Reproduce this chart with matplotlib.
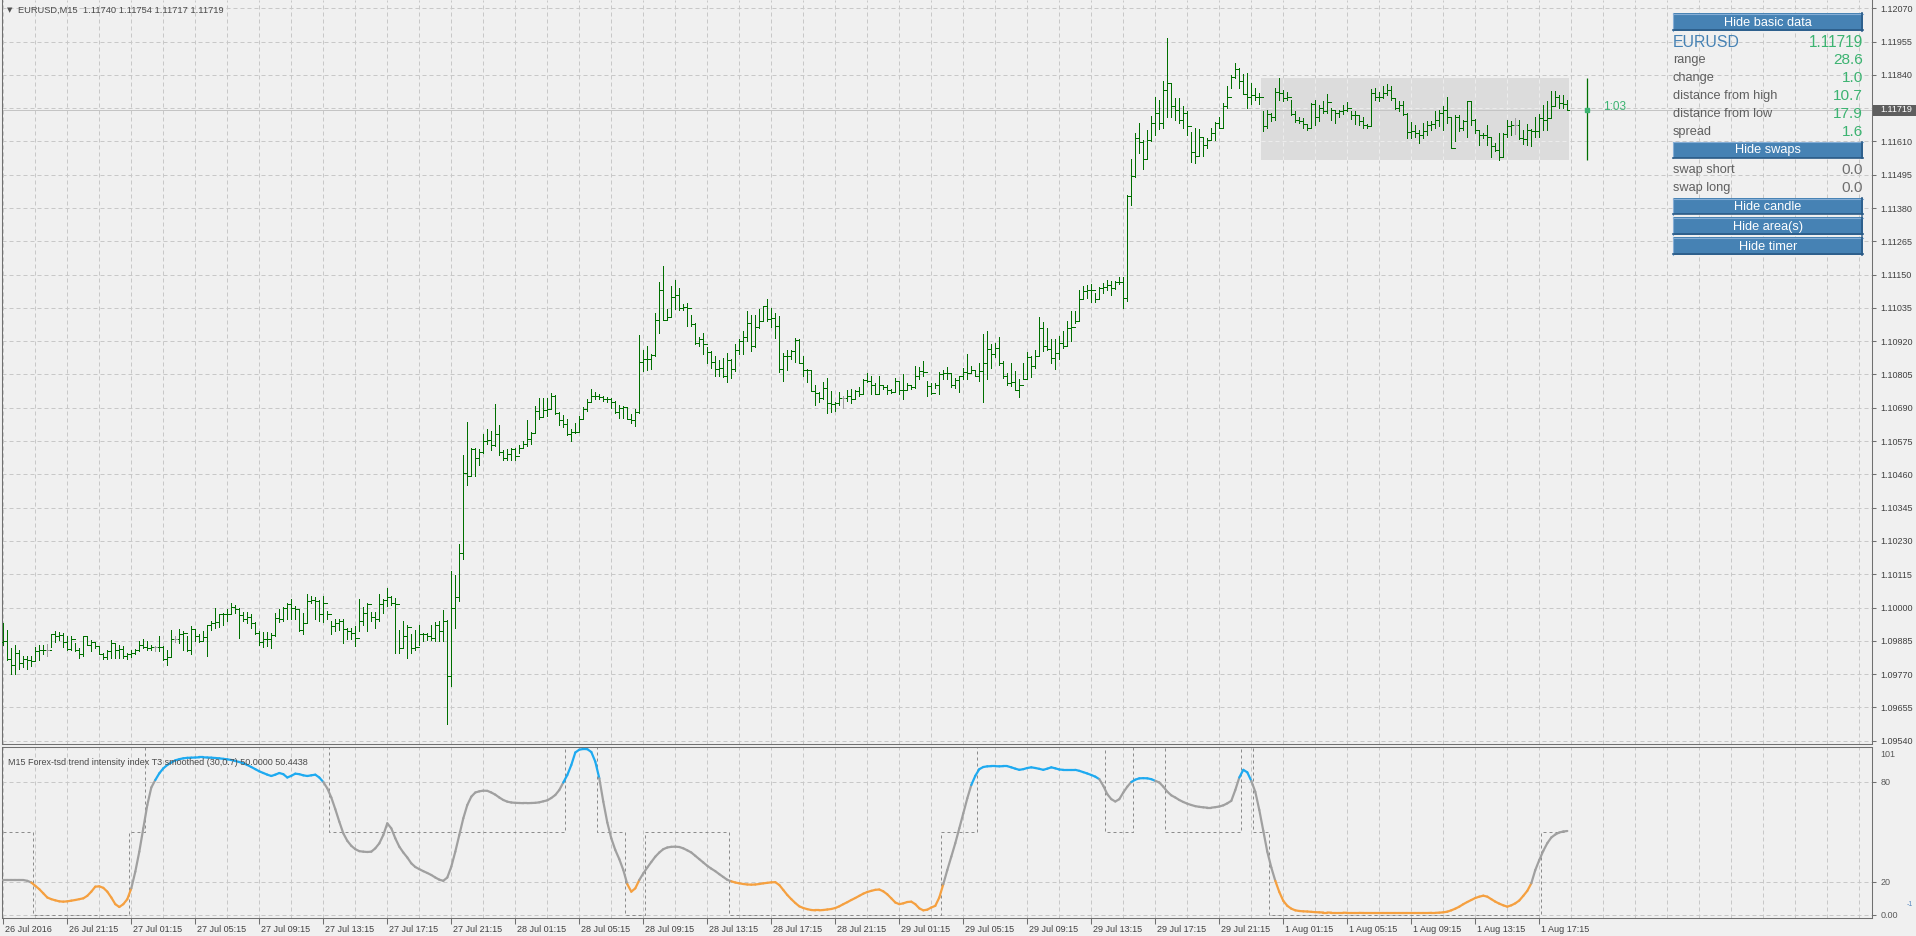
import numpy as np
import matplotlib.pyplot as plt
from matplotlib.patches import Rectangle
from matplotlib.collections import LineCollection
import matplotlib.transforms as mtrans

plt.rcParams['font.family'] = ['Liberation Sans', 'DejaVu Sans']

# EURUSD M15 bars, prices in pips above 1.0900
base = 1.0900
high_pips = [
    94.7, 92.4, 86.1, 86.9, 85.3, 83.4, 83.4, 83.4, 86.4, 86.9,
    86.9, 87.3, 91.0, 91.8, 91.6, 91.2, 90.3, 90.3, 87.6, 86.1,
    90.3, 90.1, 88.7, 88.0, 86.7, 84.4, 85.5, 88.7, 87.6, 87.2,
    86.7, 84.4, 85.3, 85.7, 88.4, 89.2, 88.4, 86.9, 86.7, 90.3,
    86.7, 85.5, 92.4, 90.3, 92.6, 91.8, 90.3, 93.5, 92.6, 90.7,
    91.8, 94.1, 95.3, 99.9, 97.9, 98.1, 99.5, 101.4, 101.0, 99.9,
    98.4, 98.4, 97.9, 94.9, 91.8, 91.5, 91.5, 91.2, 98.1, 99.5,
    100.2, 101.6, 102.8, 100.7, 99.3, 98.1, 104.8, 103.9, 103.7, 102.5,
    104.1, 98.7, 95.3, 95.9, 95.9, 95.9, 93.0, 93.0, 93.5, 103.0,
    100.2, 101.6, 98.4, 98.4, 104.5, 102.8, 106.8, 103.9, 103.3, 92.2,
    95.3, 93.8, 90.7, 92.4, 94.1, 91.2, 91.2, 93.8, 94.9, 95.3,
    99.3, 95.6, 112.5,
    111.2, 121.9, 152.6, 164.1, 155.2, 155.2, 154.9, 159.8, 161.8, 161.0,
    170.2, 162.9, 154.4, 154.7, 155.2, 155.2, 156.0, 157.5, 164.7, 160.6,
    169.6, 172.5, 172.5, 172.5, 174.0, 173.3, 167.5, 166.4, 165.0, 161.6,
    163.6, 166.2, 169.4, 172.1, 175.6, 174.4, 173.6, 173.0, 172.8, 172.5,
    171.3, 169.8, 169.6, 169.4, 166.7, 168.7, 194.0, 189.1, 190.5, 187.4,
    201.6, 212.6, 218.1, 203.2, 211.2, 213.0, 210.4, 205.0, 205.2, 201.2,
    198.3, 193.5, 194.7, 190.1, 188.6, 186.9, 185.5, 186.3, 187.8, 185.9,
    190.9, 192.6, 195.5, 202.4, 201.2, 201.2, 203.0, 204.3, 206.6, 203.5,
    201.8,
    200.8, 187.9, 189.1, 188.8, 193.1, 192.8, 187.0, 182.4, 182.2, 176.7,
    174.4, 177.8, 179.3, 174.7, 170.9, 174.4, 173.0, 175.1, 175.5, 175.1,
    176.2, 178.8, 181.0, 180.1, 177.6, 180.1, 177.0, 176.7, 175.5, 179.3,
    178.2, 180.5, 177.6, 177.0, 183.4, 183.1, 185.1, 178.2, 177.6, 177.6,
    181.3, 182.2, 183.1, 181.0, 179.3, 180.1, 182.8, 187.4, 183.4, 182.2,
    184.3, 194.6, 195.4, 191.1, 191.2, 193.5, 185.1, 181.0, 184.5, 181.6,
    178.8, 184.5, 188.4, 187.0, 188.9, 200.4, 198.5, 196.6, 192.8, 192.8,
    193.7, 195.4, 198.9, 202.3, 202.3, 209.8, 211.2, 211.5, 211.9, 208.7,
    210.7, 212.1, 213.0, 212.7, 212.9, 214.2, 214.2,
    242.4, 254.9, 263.9, 267.3, 261.6, 265.0, 269.9, 276.2, 275.4, 281.9,
    296.6, 281.1, 275.9, 275.9, 273.1, 271.6, 264.2, 265.8, 265.4, 262.4,
    262.2, 265.8, 267.7, 269.6, 274.2, 280.0, 284.0, 288.0, 286.5, 284.2,
    284.6, 281.1, 279.6, 277.7, 271.6, 271.9, 270.8, 279.6, 282.9,
    278.8, 278.2, 275.4, 271.4, 269.3, 269.0, 266.8, 274.2, 275.4, 273.6,
    275.0, 277.3, 272.5, 271.9, 271.9, 273.6, 274.6, 271.4, 271.4, 270.0,
    269.6, 267.0, 279.2, 279.4, 278.2, 280.3, 280.8, 280.0, 276.0, 275.0,
    275.0, 270.8, 267.7, 266.8, 265.0, 267.3, 267.9, 267.9, 271.4, 271.9,
    273.1, 276.5, 269.6, 270.2, 270.2, 268.5, 275.0, 274.8, 268.8, 265.0,
    263.9, 266.8, 262.2, 260.4, 263.9, 263.9, 268.5, 268.0, 269.0, 268.5,
    265.0, 267.0, 265.4, 269.3, 270.4, 273.6, 274.8, 278.3, 278.3, 276.9,
    276.9, 275.4,
]
low_pips = [
    87.2, 81.8, 77.1, 77.2, 78.6, 79.5, 78.8, 79.7, 81.5, 81.8,
    83.8, 83.4, 86.4, 88.0, 88.9, 86.4, 85.5, 85.5, 84.9, 82.6,
    83.4, 86.9, 84.9, 86.1, 83.8, 82.1, 82.3, 82.6, 82.6, 82.6,
    82.6, 82.3, 83.0, 83.8, 84.9, 86.1, 85.5, 85.3, 84.9, 84.9,
    81.8, 80.0, 83.0, 88.0, 87.8, 85.5, 84.9, 83.8, 88.4, 88.0,
    88.4, 83.2, 92.4, 93.0, 93.3, 94.1, 95.3, 98.1, 98.1, 89.5,
    95.3, 94.7, 93.0, 90.7, 87.2, 86.4, 86.6, 86.1, 90.1, 94.9,
    95.3, 95.9, 95.9, 95.9, 91.8, 90.7, 94.7, 101.6, 95.9, 95.3,
    94.9, 95.9, 90.7, 91.8, 92.4, 87.8, 89.0, 89.0, 86.6, 91.8,
    94.1, 91.8, 95.3, 93.0, 95.3, 98.1, 100.5, 101.0, 84.4, 84.4,
    86.1, 82.6, 84.4, 85.5, 86.9, 88.4, 88.9, 88.9, 88.4, 88.4,
    88.4, 59.9, 72.9,
    93.1, 102.3, 116.9, 142.2, 145.4, 145.4, 149.1, 153.5, 156.4, 154.4,
    155.8, 152.6, 151.0, 151.0, 151.0, 151.0, 153.3, 155.2, 155.8, 156.4,
    160.4, 165.2, 166.1, 166.1, 168.5, 166.7, 162.9, 162.5, 159.5, 157.5,
    160.4, 160.6, 165.2, 167.9, 171.3, 172.1, 171.9, 171.3, 171.0, 169.0,
    167.1, 165.6, 165.6, 165.2, 163.9, 162.7, 167.3, 181.7, 182.2, 182.5,
    186.9, 194.9, 199.5, 199.5, 200.4, 203.0, 202.7, 202.9, 197.2, 197.2,
    190.9, 190.5, 187.4, 184.3, 182.8, 180.0, 180.0, 179.7, 177.9, 179.4,
    181.7, 187.4, 187.4, 192.0, 188.6, 190.1, 196.6, 198.9, 198.9, 197.0,
    193.1,
    181.3, 178.2, 182.0, 185.7, 184.7, 184.5, 180.1, 177.8, 174.7, 170.1,
    170.9, 171.9, 167.3, 167.5, 167.8, 170.1, 169.0, 171.3, 170.5, 171.9,
    173.0, 173.9, 177.8, 173.9, 173.6, 173.6, 175.5, 173.6, 174.2, 174.4,
    173.9, 171.9, 175.5, 175.5, 175.9, 178.8, 180.1, 173.0, 173.6, 175.9,
    173.6, 179.0, 178.8, 176.2, 175.9, 174.4, 179.0, 178.8, 181.3, 179.9,
    178.2, 170.9, 178.8, 182.8, 186.6, 183.9, 179.3, 177.0, 176.4, 175.1,
    172.8, 178.8, 179.0, 179.7, 182.8, 187.0, 188.5, 189.1, 184.5, 182.4,
    185.7, 189.7, 190.3, 192.0, 198.3, 198.9, 206.4, 206.9, 205.4, 205.4,
    206.9, 208.7, 209.6, 208.1, 210.0, 211.9, 203.5,
    206.0, 239.2, 248.6, 257.0, 251.6, 255.0, 261.2, 263.3, 265.4, 265.6,
    269.3, 269.3, 268.5, 267.3, 265.6, 263.3, 253.9, 253.5, 255.8, 255.8,
    258.7, 261.6, 261.6, 265.8, 265.8, 272.7, 279.4, 282.9, 279.4, 277.3,
    272.5, 273.9, 275.4, 273.9, 264.7, 265.6, 268.1, 268.5, 275.4,
    275.0, 275.4, 270.2, 267.7, 267.3, 265.6, 265.0, 265.6, 266.8, 267.9,
    270.8, 270.8, 268.5, 267.3, 269.3, 270.4, 271.4, 268.8, 267.0, 266.8,
    265.6, 265.6, 266.2, 275.4, 274.8, 276.0, 277.1, 275.4, 272.3, 271.4,
    270.2, 262.2, 262.2, 262.7, 260.4, 262.2, 263.3, 265.0, 265.6, 266.2,
    265.0, 267.3, 258.7, 261.0, 264.5, 265.0, 262.7, 266.8, 263.9, 259.6,
    262.2, 259.6, 255.5, 257.6, 254.7, 255.5, 262.7, 263.1, 263.5, 261.9,
    260.1, 259.6, 259.3, 262.4, 262.4, 265.0, 265.0, 269.0, 273.1, 272.5,
    272.7, 271.7,
]
close_pips = [
    88.6, 82.3, 80.0, 84.4, 80.9, 82.1, 81.8, 81.6, 84.9, 85.5,
    85.2, 85.2, 90.7, 90.3, 90.5, 88.1, 85.8, 89.3, 85.5, 83.8,
    90.1, 87.2, 88.0, 86.7, 84.1, 83.0, 84.9, 87.6, 85.5, 85.7,
    83.4, 83.8, 84.4, 85.5, 87.2, 86.4, 86.0, 86.2, 86.2, 86.4,
    82.1, 83.0, 89.0, 89.0, 90.9, 91.2, 85.3, 92.6, 90.3, 88.4,
    89.8, 93.8, 94.7, 94.9, 97.8, 97.6, 97.9, 100.1, 99.5, 97.3,
    96.1, 96.8, 94.7, 91.2, 88.0, 89.0, 89.2, 90.4, 96.4, 95.9,
    99.9, 101.3, 99.9, 99.5, 92.4, 94.7, 102.2, 102.5, 102.2, 97.9,
    101.6, 97.6, 93.5, 94.7, 95.3, 92.6, 91.8, 91.2, 89.5, 95.3,
    98.1, 101.3, 96.7, 95.9, 101.1, 102.5, 103.6, 101.4, 101.3, 86.1,
    90.3, 93.3, 85.9, 86.4, 90.7, 90.9, 90.3, 89.5, 93.8, 91.8,
    95.5, 76.5, 99.9,
    103.5, 118.7, 146.6, 145.4, 154.9, 151.8, 153.7, 157.5, 157.9, 156.0,
    159.8, 153.7, 151.8, 152.9, 154.9, 152.4, 155.2, 156.4, 158.3, 160.4,
    167.9, 165.9, 168.2, 168.5, 173.0, 167.1, 164.8, 163.5, 159.8, 160.6,
    160.7, 165.2, 168.7, 171.0, 173.0, 173.2, 172.8, 171.9, 172.1, 171.0,
    167.5, 169.0, 169.2, 165.2, 164.8, 167.5, 184.8, 185.9, 185.7, 187.1,
    199.3, 209.6, 199.3, 200.4, 207.3, 208.1, 203.5, 203.9, 203.5, 198.1,
    191.2, 192.8, 190.9, 188.2, 184.8, 182.5, 182.7, 180.0, 185.5, 182.5,
    189.1, 192.0, 193.5, 198.4, 190.5, 197.0, 198.9, 204.1, 199.7, 200.1,
    197.2,
    182.4, 187.0, 186.8, 188.5, 192.5, 184.5, 182.2, 182.1, 174.7, 174.2,
    172.4, 175.9, 170.5, 170.4, 170.6, 172.4, 172.4, 173.0, 171.9, 174.7,
    173.9, 178.5, 178.2, 176.7, 173.8, 176.7, 176.2, 175.3, 174.4, 178.2,
    175.0, 175.1, 177.0, 176.2, 180.1, 181.6, 181.3, 176.4, 174.2, 177.0,
    180.8, 181.0, 181.1, 176.7, 178.5, 179.9, 181.3, 181.0, 182.0, 180.1,
    181.6, 184.5, 189.3, 187.7, 189.7, 184.5, 179.9, 177.6, 177.8, 175.3,
    177.0, 179.0, 186.6, 183.4, 187.0, 196.6, 190.3, 189.3, 186.2, 187.9,
    191.2, 190.5, 196.6, 196.9, 198.9, 206.6, 209.2, 209.6, 209.8, 206.6,
    210.4, 210.7, 211.5, 210.4, 212.3, 212.5, 206.9,
    242.0, 248.9, 262.1, 260.7, 254.9, 261.6, 267.3, 270.8, 267.3, 278.8,
    281.1, 273.1, 271.9, 268.5, 270.8, 266.2, 257.3, 255.8, 262.4, 259.6,
    261.6, 263.9, 267.3, 265.8, 273.1, 276.5, 283.4, 286.1, 281.7, 277.3,
    276.2, 277.1, 276.5, 276.3, 266.2, 270.4, 269.6, 278.0, 277.7,
    276.0, 276.2, 270.4, 268.5, 268.1, 267.0, 265.6, 273.9, 269.3, 272.7,
    271.6, 274.6, 271.9, 270.8, 271.6, 271.7, 272.7, 270.2, 270.0, 267.9,
    266.8, 266.2, 277.7, 276.5, 276.2, 277.7, 278.8, 276.0, 272.5, 273.6,
    270.4, 264.4, 264.7, 263.9, 263.3, 264.7, 266.8, 267.0, 268.5, 270.8,
    271.9, 269.6, 258.9, 269.6, 265.6, 267.9, 274.8, 268.5, 265.0, 263.1,
    263.3, 262.4, 259.3, 258.1, 255.5, 263.5, 266.2, 266.8, 266.8, 262.2,
    261.9, 265.0, 264.7, 264.6, 269.0, 268.5, 269.1, 273.1, 276.2, 274.2,
    274.0, 271.9,
]
first_open_pips = 88.0
doji_bars = [11, 38, 43, 210, 378]   # drawn grey (open == close)

# trend intensity index (T3 smoothed), one value per bar
tii = [
    21, 21, 21, 21, 21, 21, 20.5, 19.5,
    17.5, 15.5, 13, 10.5, 9.5, 8.8, 8.2, 8.0,
    8.2, 8.6, 9.0, 9.5, 10.0, 11.5, 14, 17,
    17.2, 16.3, 14, 10.5, 6.5, 4.8, 6.5, 9.5,
    16, 26, 38, 52, 66, 76.5, 81, 85,
    88, 90, 91.5, 92.8, 93.5, 94, 94.3, 94.4,
    94.5, 94.6, 94.6, 94.5, 94.4, 94.2, 94, 93.7,
    93.4, 93, 92.4, 91.8, 91, 90, 88.8, 87.5,
    86.2, 85.2, 84.2, 83.4, 84.2, 85.2, 84.5, 82.5,
    83.5, 84.8, 84.5, 83.8, 83.4, 83.8, 84.2, 82.5,
    79.8, 76, 70.5, 63.5, 56, 49, 44.5, 41.5,
    39.5, 38.3, 38, 37.8, 38, 40, 43, 48,
    55, 52, 46, 41, 37.5, 34.5, 31, 28.8,
    27.5, 26.3, 25.2, 24, 22.5, 21.2, 20.5, 22.5,
    29, 38, 48, 58, 66, 71, 73.5, 74.2,
    74.6, 74.5, 73.5, 72.2, 70.5, 69, 68, 67.5,
    67.3, 67.2, 67.1, 67.1, 67.2, 67.3, 67.6, 68.2,
    68.8, 70.2, 72, 75, 79.5, 84, 90, 97.5,
    99.2, 99.6, 99.5, 97.8, 92, 82, 68, 55.5,
    46, 39, 33.5, 27, 18.5, 14, 16, 21,
    25, 28.5, 31.8, 35, 37.5, 39.5, 40.5, 40.9,
    41, 40.8, 40, 38.8, 37.5, 35.5, 33.5, 31.5,
    29.5, 27.8, 26.3, 24.5, 22.8, 21.1, 20.2, 19.5,
    19, 18.6, 18.3, 18.2, 18.3, 18.6, 19, 19.3,
    19.6, 19.7, 18, 15, 12, 9.5, 7.2, 5.2,
    4.2, 3.5, 3, 2.8, 2.8, 3, 3.3, 3.6,
    4.2, 5.2, 6.5, 7.7, 9, 10.2, 11.5, 12.8,
    13.8, 14.5, 15.1, 15.3, 14.2, 12.4, 10, 7.5,
    6.5, 7, 7.8, 8, 6.5, 4, 2.8, 3.2,
    4.5, 5.5, 10.5, 18.5, 27, 35, 43.1, 52,
    61, 70, 78, 83.5, 87.5, 88.8, 89.2, 89.3,
    89.3, 89.2, 89.3, 89.3, 88.6, 87.8, 87.1, 87.5,
    88.2, 88.6, 88.2, 87.7, 87.1, 87.8, 88.6, 88,
    87.3, 87.1, 87.1, 87.1, 87.1, 86.5, 85.7, 84.9,
    84, 83, 81.5, 77.5, 72.5, 69.5, 68.1, 69.5,
    73.5, 77, 79.8, 81.2, 82, 82.1, 82, 81.5,
    80.5, 79.5, 77, 74, 71.8, 70.5, 69, 67.8,
    66.8, 66, 65.3, 64.9, 64.6, 64.4, 64.4, 64.7,
    65.1, 65.8, 67, 68.5, 75, 82.5, 87.1, 85.6,
    80.5, 73.9, 63, 50.5, 38, 28.5, 20.5, 13.8,
    8.5, 5.5, 3.8, 2.8, 2.4, 2.2, 2.1, 1.9,
    1.7, 1.6, 1.5, 1.5, 1.4, 1.4, 1.4, 1.4,
    1.3, 1.3, 1.3, 1.3, 1.2, 1.2, 1.2, 1.2,
    1.2, 1.2, 1.2, 1.2, 1.2, 1.2, 1.2, 1.2,
    1.2, 1.2, 1.2, 1.2, 1.2, 1.3, 1.3, 1.4,
    1.6, 2.0, 2.8, 3.8, 5, 6.5, 7.8, 9,
    10.2, 11, 11.6, 11, 9.5, 8, 6.8, 5.8,
    5, 5.8, 7, 8.7, 11.5, 14.5, 19, 27,
    33, 38.5, 43.1, 46.5, 48.3, 49.5, 50.1, 50.4,
]
# dotted state line: level and number of bars it holds
state_level = [50, 0, 50, 101, 50, 101, 50, 0, 50, 0, 50, 101, 50, 101, 50, 101, 50, 0, 50]
state_len = [8, 24, 4, 46, 59, 8, 7, 5, 21, 53, 9, 32, 7, 8, 19, 3, 4, 68, 7]

time_labels = ['26 Jul 2016', '26 Jul 21:15', '27 Jul 01:15', '27 Jul 05:15', '27 Jul 09:15',
               '27 Jul 13:15', '27 Jul 17:15', '27 Jul 21:15', '28 Jul 01:15', '28 Jul 05:15',
               '28 Jul 09:15', '28 Jul 13:15', '28 Jul 17:15', '28 Jul 21:15', '29 Jul 01:15',
               '29 Jul 05:15', '29 Jul 09:15', '29 Jul 13:15', '29 Jul 17:15', '29 Jul 21:15',
               '1 Aug 01:15', '1 Aug 05:15', '1 Aug 09:15', '1 Aug 13:15', '1 Aug 17:15']
price_ticks = [1.09540, 1.09655, 1.09770, 1.09885, 1.10000, 1.10115, 1.10230, 1.10345,
               1.10460, 1.10575, 1.10690, 1.10805, 1.10920, 1.11035, 1.11150, 1.11265,
               1.11380, 1.11495, 1.11610, 1.11725, 1.11840, 1.11955, 1.12070]
last_price = 1.11719
day_start = 315          # first bar of 1 Aug
candle_pos = 396         # daily candle drawn right of the last bar
info_rows = [('range', '28.6'), ('change', '1.0'), ('distance from high', '10.7'),
             ('distance from low', '17.9'), ('spread', '1.6')]
swap_rows = [('swap short', '0.0'), ('swap long', '0.0')]

n = len(close_pips)
assert len(high_pips) == n and len(low_pips) == n and len(tii) == n == sum(state_len)

hi = base + np.array(high_pips) / 1e4
lo = base + np.array(low_pips) / 1e4
cl = base + np.array(close_pips) / 1e4
op = np.concatenate([[base + first_open_pips / 1e4], cl[:-1]])
x = np.arange(n)

BG = '#f0f0f0'
GRID = '#c8c8c8'
FRAME = '#707070'
GREEN = '#006f00'
SEA = '#3cb371'
W, H = 1916, 936
fig = plt.figure(figsize=(W / 100, H / 100), dpi=100, facecolor=BG)


def px_axes(x0, y0, x1, y1):
    return fig.add_axes([x0 / W, 1 - y1 / H, (x1 - x0) / W, (y1 - y0) / H])


xlim = (-0.325, 467.175)
grid_kw = dict(color=GRID, ls=(0, (4, 3)), lw=0.72)

# ---- price chart
ax = px_axes(2, 0, 1872, 744)
ax.set_facecolor(BG)
ax.set_xlim(*xlim)
ax.set_ylim(1.095286, 1.120985)
ax.set_axisbelow(True)
ax.set_xticks(np.arange(0, 468, 8))
ax.set_yticks(price_ticks)
ax.set_yticklabels(['%.5f' % p for p in price_ticks])
ax.yaxis.tick_right()
ax.tick_params(axis='x', length=0, labelbottom=False)
ax.tick_params(axis='y', length=3, width=0.75, color=FRAME, labelsize=6.5,
               labelcolor='#404040', pad=3)
ax.grid(**grid_kw)
ax.spines['top'].set_visible(False)
for s in ('left', 'right', 'bottom'):
    ax.spines[s].set_color(FRAME)
    ax.spines[s].set_linewidth(0.75)

# today's range box
day_hi = hi[day_start:].max()
day_lo = lo[day_start:].min()
ax.add_patch(Rectangle((day_start - 0.5, day_lo), n - day_start, day_hi - day_lo,
                       fc='#dcdcdc', ec='none', zorder=0.8))
inside_x = [g for g in np.arange(0, 468, 8) if day_start - 0.5 < g < n - 0.5]
inside_y = [p for p in price_ticks if day_lo < p < day_hi]
ax.vlines(inside_x, day_lo, day_hi, color='#ececec', ls=(0, (4, 3)), lw=0.72, zorder=0.9)
ax.hlines(inside_y, day_start - 0.5, n - 0.5, color='#ececec', ls=(0, (4, 3)), lw=0.72, zorder=0.9)

ax.axhline(last_price, color='#c4c4c4', lw=0.72, zorder=1.5)

colors = ['#a0a0a0' if i in doji_bars else GREEN for i in range(n)]
ax.vlines(x, lo, hi, colors=colors, lw=0.7, antialiased=False, zorder=3)
ax.hlines(op, x - 0.5, x, colors=colors, lw=0.7, antialiased=False, zorder=3)
ax.hlines(cl, x, x + 0.5, colors=colors, lw=0.7, antialiased=False, zorder=3)

# daily candle + timer
ax.vlines(candle_pos, day_lo, day_hi, color=GREEN, lw=0.9, zorder=3)
ax.plot(candle_pos, last_price, marker='s', ms=3.2, color=SEA, zorder=4)
ax.text(candle_pos + 4, last_price, '1:03', color=SEA, fontsize=8.5, va='baseline', ha='left')

# ---- indicator window
ax2 = px_axes(2, 746.5, 1872, 917.5)
ax2.set_facecolor(BG)
ax2.set_xlim(*xlim)
ax2.set_ylim(-1.5, 101.1)
ax2.set_axisbelow(True)
major = np.arange(0, 16 * len(time_labels), 16)
ax2.set_xticks(major)
ax2.set_xticklabels(time_labels)
ax2.set_xticks([g for g in range(0, 468, 8) if g not in major], minor=True)
ax2.tick_params(axis='x', which='major', length=4, width=0.75, color=FRAME,
                labelsize=6.5, labelcolor='#404040', pad=1.5)
ax2.tick_params(axis='x', which='minor', length=0)
shift = mtrans.ScaledTranslation(2 / 100, 0, fig.dpi_scale_trans)
for t in ax2.get_xticklabels():
    t.set_ha('left')
    t.set_transform(t.get_transform() + shift)
ax2.set_yticks([0, 20, 80])
ax2.set_yticklabels(['0.00', '20', '80'])
ax2.yaxis.tick_right()
ax2.tick_params(axis='y', length=3, width=0.75, color=FRAME, labelsize=6.5,
                labelcolor='#5a5a5a', pad=3)
ax2.grid(which='both', **grid_kw)
for s in ax2.spines.values():
    s.set_color(FRAME)
    s.set_linewidth(0.75)
ax2.text(1.0045, 99.0, '101', transform=ax2.get_yaxis_transform(), fontsize=6.5,
         color='#5a5a5a', va='top', ha='left')
ax2.text(1.0185, 6.5, '-1', transform=ax2.get_yaxis_transform(), fontsize=5,
         color='#5a8ac0', va='center', ha='left')

state = np.repeat(state_level, state_len)
ax2.plot(x, state, drawstyle='steps-mid', color='#8c8c8c', ls=(0, (3, 3)), lw=0.72, zorder=2)

v = np.array(tii, dtype=float)
pts = np.column_stack([x, v])
segs = np.stack([pts[:-1], pts[1:]], axis=1)
mid = (v[:-1] + v[1:]) / 2
seg_colors = np.where(mid > 80, '#1eaaf0', np.where(mid < 20, '#f5a040', '#a0a0a0'))
ax2.add_collection(LineCollection(segs, colors=seg_colors, lw=1.6, capstyle='round', zorder=3))

# ---- overlay in pixel space for the MT4 labels and panel
ov = fig.add_axes([0, 0, 1, 1])
ov.set_xlim(0, W)
ov.set_ylim(H, 0)
ov.axis('off')
ov.patch.set_alpha(0)

ov.text(7, 10.5, '\u25bc', fontsize=5, color='#505050', va='center', family=['DejaVu Sans'])
ov.text(18, 10.5, 'EURUSD,M15  1.11740 1.11754 1.11717 1.11719', fontsize=6.7,
        color='#4a4a4a', va='center')
ov.text(8, 762.7, 'M15 Forex-tsd trend intensity index T3 smoothed (30,0.7) 50.0000 50.4438',
        fontsize=6.5, color='#4a4a4a', va='center')

# current price badge
ov.add_patch(Rectangle((1873, 104.5), 43, 11, fc='#5e5e5e', ec='none'))
ov.text(1880, 110, '%.5f' % last_price, fontsize=6.5, color='white', va='center')


def button(y0, y1, label):
    ov.add_patch(Rectangle((1673, y0), 190, y1 - y0, fc='#4682b4', ec='none'))
    ov.plot([1673, 1863], [y0 + 0.5, y0 + 0.5], color='#86aed6', lw=0.8)
    ov.plot([1673.5, 1673.5], [y0, y1], color='#86aed6', lw=0.8)
    ov.plot([1673, 1863], [y1 - 0.8, y1 - 0.8], color='#2a5a86', lw=1.2)
    ov.plot([1862.4, 1862.4], [y0, y1], color='#2a5a86', lw=1.2)
    ov.text(1768, (y0 + y1) / 2 + 0.5, label, fontsize=9.2, color='white', ha='center', va='center')


button(13, 31, 'Hide basic data')
ov.text(1673, 42.5, 'EURUSD', fontsize=11.4, color='#4682b4', va='center')
ov.text(1863, 42.5, '%.5f' % last_price, fontsize=11.2, color=SEA, va='center', ha='right')
for i, (lab, val) in enumerate(info_rows):
    yy = 60 + i * 17.9
    ov.text(1673, yy, lab, fontsize=9.2, color='#5f5f5f', va='center')
    ov.text(1863, yy + 0.5, val, fontsize=11.1, color=SEA, va='center', ha='right')
button(141.7, 158.3, 'Hide swaps')
for i, (lab, val) in enumerate(swap_rows):
    yy = 170 + i * 18
    ov.text(1673, yy, lab, fontsize=9.2, color='#5f5f5f', va='center')
    ov.text(1863, yy + 0.5, val, fontsize=11.1, color='#707070', va='center', ha='right')
button(198.3, 214.5, 'Hide candle')
button(217.3, 235, 'Hide area(s)')
button(237.3, 255, 'Hide timer')

fig.savefig('out.png', dpi=100, facecolor=BG)
